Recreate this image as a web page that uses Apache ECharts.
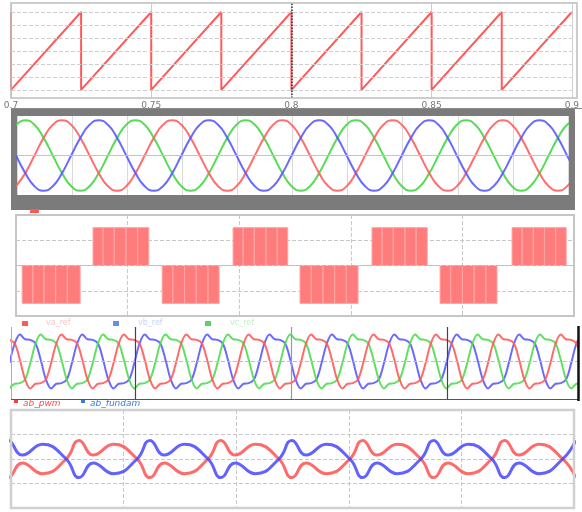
<!DOCTYPE html>
<html><head><meta charset="utf-8">
<script src="https://cdn.jsdelivr.net/npm/echarts/dist/echarts.min.js"></script>
<style>html,body{margin:0;padding:0;background:#fff}#c{width:582px;height:512px}</style>
</head><body><div id="c"></div>
<script>
// ---------- Panel 1: carrier sawtooth ----------
const sawX = [0.7, 0.7, 0.725, 0.725, 0.75, 0.75, 0.775, 0.775, 0.8, 0.8, 0.825, 0.825, 0.85, 0.85, 0.875, 0.875, 0.9];
const sawY = [6, 0, 6, 0, 6, 0, 6, 0, 6, 0, 6, 0, 6, 0, 6, 0, 6];
const sawLevels = [0, 1, 2, 3, 4, 5, 6];
const sawCursor = [0.8];

// ---------- Panel 2: three-phase references ----------
const sineT = [-0.17, 1.5, 3.17, 4.83, 6.5, 8.17, 9.83, 11.5, 13.17, 14.83, 16.5, 18.17,
  19.83, 21.5, 23.17, 24.83, 26.5, 28.17, 29.83, 31.5, 33.17, 34.83, 36.5, 38.17,
  39.83, 41.5, 43.17, 44.83, 46.5, 48.17, 49.83, 51.5, 53.17, 54.83, 56.5, 58.17,
  59.83, 61.5, 63.17, 64.83, 66.5, 68.17, 69.83, 71.5, 73.17, 74.83, 76.5, 78.17,
  79.83, 81.5, 83.17, 84.83, 86.5, 88.17, 89.83, 91.5, 93.17, 94.83, 96.5, 98.17,
  99.83, 101.5];
const sineGreen = [0.87,
  1, 0.87, 0.5, 0, -0.5, -0.87, -1, -0.87, -0.5, 0, 0.5, 0.87,
  1, 0.87, 0.5, 0, -0.5, -0.87, -1, -0.87, -0.5, 0, 0.5, 0.87,
  1, 0.87, 0.5, 0, -0.5, -0.87, -1, -0.87, -0.5, 0, 0.5, 0.87,
  1, 0.87, 0.5, 0, -0.5, -0.87, -1, -0.87, -0.5, 0, 0.5, 0.87,
  1, 0.87, 0.5, 0, -0.5, -0.87, -1, -0.87, -0.5, 0, 0.5, 0.87,
  1];
const sineRed = [-0.87, -0.5, 0, 0.5, 0.87,
  1, 0.87, 0.5, 0, -0.5, -0.87, -1, -0.87, -0.5, 0, 0.5, 0.87,
  1, 0.87, 0.5, 0, -0.5, -0.87, -1, -0.87, -0.5, 0, 0.5, 0.87,
  1, 0.87, 0.5, 0, -0.5, -0.87, -1, -0.87, -0.5, 0, 0.5, 0.87,
  1, 0.87, 0.5, 0, -0.5, -0.87, -1, -0.87, -0.5, 0, 0.5, 0.87,
  1, 0.87, 0.5, 0, -0.5, -0.87, -1, -0.87, -0.5];
const sineBlue = [0, -0.5, -0.87, -1, -0.87, -0.5, 0, 0.5, 0.87,
  1, 0.87, 0.5, 0, -0.5, -0.87, -1, -0.87, -0.5, 0, 0.5, 0.87,
  1, 0.87, 0.5, 0, -0.5, -0.87, -1, -0.87, -0.5, 0, 0.5, 0.87,
  1, 0.87, 0.5, 0, -0.5, -0.87, -1, -0.87, -0.5, 0, 0.5, 0.87,
  1, 0.87, 0.5, 0, -0.5, -0.87, -1, -0.87, -0.5, 0, 0.5, 0.87,
  1, 0.87, 0.5, 0, -0.5];

// ---------- Panel 3: PWM leg voltage [time, level] ----------
const pwmWave = [
  [0, 0],
  [1.1, 0], [1.1, -300], [3.0, -300], [3.0, 0], [3.0, -300], [5.0, -300], [5.0, 0], [5.0, -300], [7.1, -300], [7.1, 0], [7.1, -300], [9.2, -300], [9.2, 0], [9.2, -300], [11.5, -300], [11.5, 0],
  [13.8, 0], [13.8, 300], [15.6, 300], [15.6, 0], [15.6, 300], [17.6, 300], [17.6, 0], [17.6, 300], [19.7, 300], [19.7, 0], [19.7, 300], [21.8, 300], [21.8, 0], [21.8, 300], [23.8, 300], [23.8, 0],
  [26.2, 0], [26.2, -300], [28.1, -300], [28.1, 0], [28.1, -300], [30.2, -300], [30.2, 0], [30.2, -300], [32.3, -300], [32.3, 0], [32.3, -300], [34.4, -300], [34.4, 0], [34.4, -300], [36.4, -300], [36.4, 0],
  [38.9, 0], [38.9, 300], [40.7, 300], [40.7, 0], [40.7, 300], [42.7, 300], [42.7, 0], [42.7, 300], [44.8, 300], [44.8, 0], [44.8, 300], [46.8, 300], [46.8, 0], [46.8, 300], [48.7, 300], [48.7, 0],
  [50.9, 0], [50.9, -300], [52.9, -300], [52.9, 0], [52.9, -300], [55.0, -300], [55.0, 0], [55.0, -300], [57.1, -300], [57.1, 0], [57.1, -300], [59.2, -300], [59.2, 0], [59.2, -300], [61.3, -300], [61.3, 0],
  [63.8, 0], [63.8, 300], [65.6, 300], [65.6, 0], [65.6, 300], [67.6, 300], [67.6, 0], [67.6, 300], [69.7, 300], [69.7, 0], [69.7, 300], [71.7, 300], [71.7, 0], [71.7, 300], [73.7, 300], [73.7, 0],
  [76.0, 0], [76.0, -300], [77.9, -300], [77.9, 0], [77.9, -300], [80.0, -300], [80.0, 0], [80.0, -300], [82.1, -300], [82.1, 0], [82.1, -300], [84.2, -300], [84.2, 0], [84.2, -300], [86.2, -300], [86.2, 0],
  [88.9, 0], [88.9, 300], [90.7, 300], [90.7, 0], [90.7, 300], [92.7, 300], [92.7, 0], [92.7, 300], [94.7, 300], [94.7, 0], [94.7, 300], [96.7, 300], [96.7, 0], [96.7, 300], [98.6, 300], [98.6, 0],
  [100, 0]
];

// ---------- Panel 4: distorted three-phase ----------
const distT = [9.83, 11.5, 13.17, 14.83, 16.5, 18.17, 19.83, 21.5, 23.17, 24.83, 26.5, 28.17,
  29.83, 31.5, 33.17, 34.83, 36.5, 38.17, 39.83, 41.5, 43.17, 44.83, 46.5, 48.17,
  49.83, 51.5, 53.17, 54.83, 56.5, 58.17, 59.83, 61.5, 63.17, 64.83, 66.5, 68.17,
  69.83, 71.5, 73.17, 74.83, 76.5, 78.17, 79.83, 81.5, 83.17, 84.83, 86.5, 88.17,
  89.83, 91.5, 93.17, 94.83, 96.5, 98.17, 99.83, 101.5, 103.17, 104.83, 106.5, 108.17,
  109.83, 111.5, 113.17, 114.83, 116.5, 118.17, 119.83, 121.5, 123.17, 124.83, 126.5, 128.17,
  129.83, 131.5, 133.17, 134.83, 136.5, 138.17, 139.83, 141.5, 143.17, 144.83, 146.5, 148.17,
  149.83, 151.5, 153.17, 154.83, 156.5, 158.17, 159.83, 161.5, 163.17, 164.83, 166.5, 168.17,
  169.83, 171.5, 173.17, 174.83, 176.5, 178.17, 179.83, 181.5, 183.17, 184.83, 186.5, 188.17,
  189.83, 191.5, 193.17];
const distBlue = [-0.05, 0.6,
  0.9, 0.74, 0.72, 0.6, 0.05, -0.6, -0.9, -0.74, -0.72, -0.6, -0.05, 0.6,
  0.9, 0.74, 0.72, 0.6, 0.05, -0.6, -0.9, -0.74, -0.72, -0.6, -0.05, 0.6,
  0.9, 0.74, 0.72, 0.6, 0.05, -0.6, -0.9, -0.74, -0.72, -0.6, -0.05, 0.6,
  0.9, 0.74, 0.72, 0.6, 0.05, -0.6, -0.9, -0.74, -0.72, -0.6, -0.05, 0.6,
  0.9, 0.74, 0.72, 0.6, 0.05, -0.6, -0.9, -0.74, -0.72, -0.6, -0.05, 0.6,
  0.9, 0.74, 0.72, 0.6, 0.05, -0.6, -0.9, -0.74, -0.72, -0.6, -0.05, 0.6,
  0.9, 0.74, 0.72, 0.6, 0.05, -0.6, -0.9, -0.74, -0.72, -0.6, -0.05, 0.6,
  0.9, 0.74, 0.72, 0.6, 0.05, -0.6, -0.9, -0.74, -0.72, -0.6, -0.05, 0.6,
  0.9, 0.74, 0.72, 0.6, 0.05, -0.6, -0.9, -0.74, -0.72, -0.6, -0.05, 0.6,
  0.9];
const distGreen = [-0.9, -0.74, -0.72, -0.6, -0.05, 0.6,
  0.9, 0.74, 0.72, 0.6, 0.05, -0.6, -0.9, -0.74, -0.72, -0.6, -0.05, 0.6,
  0.9, 0.74, 0.72, 0.6, 0.05, -0.6, -0.9, -0.74, -0.72, -0.6, -0.05, 0.6,
  0.9, 0.74, 0.72, 0.6, 0.05, -0.6, -0.9, -0.74, -0.72, -0.6, -0.05, 0.6,
  0.9, 0.74, 0.72, 0.6, 0.05, -0.6, -0.9, -0.74, -0.72, -0.6, -0.05, 0.6,
  0.9, 0.74, 0.72, 0.6, 0.05, -0.6, -0.9, -0.74, -0.72, -0.6, -0.05, 0.6,
  0.9, 0.74, 0.72, 0.6, 0.05, -0.6, -0.9, -0.74, -0.72, -0.6, -0.05, 0.6,
  0.9, 0.74, 0.72, 0.6, 0.05, -0.6, -0.9, -0.74, -0.72, -0.6, -0.05, 0.6,
  0.9, 0.74, 0.72, 0.6, 0.05, -0.6, -0.9, -0.74, -0.72, -0.6, -0.05, 0.6,
  0.9, 0.74, 0.72, 0.6, 0.05, -0.6, -0.9, -0.74, -0.72];
const distRed = [0.72, 0.6, 0.05, -0.6, -0.9, -0.74, -0.72, -0.6, -0.05, 0.6,
  0.9, 0.74, 0.72, 0.6, 0.05, -0.6, -0.9, -0.74, -0.72, -0.6, -0.05, 0.6,
  0.9, 0.74, 0.72, 0.6, 0.05, -0.6, -0.9, -0.74, -0.72, -0.6, -0.05, 0.6,
  0.9, 0.74, 0.72, 0.6, 0.05, -0.6, -0.9, -0.74, -0.72, -0.6, -0.05, 0.6,
  0.9, 0.74, 0.72, 0.6, 0.05, -0.6, -0.9, -0.74, -0.72, -0.6, -0.05, 0.6,
  0.9, 0.74, 0.72, 0.6, 0.05, -0.6, -0.9, -0.74, -0.72, -0.6, -0.05, 0.6,
  0.9, 0.74, 0.72, 0.6, 0.05, -0.6, -0.9, -0.74, -0.72, -0.6, -0.05, 0.6,
  0.9, 0.74, 0.72, 0.6, 0.05, -0.6, -0.9, -0.74, -0.72, -0.6, -0.05, 0.6,
  0.9, 0.74, 0.72, 0.6, 0.05, -0.6, -0.9, -0.74, -0.72, -0.6, -0.05, 0.6,
  0.9, 0.74, 0.72, 0.6, 0.05];
const distGridX = [50, 100, 150];

// ---------- Panel 5: ab_pwm / ab_fundam ----------
const beatT = [-2.8, -0.5, 2.0, 5.6, 9.8, 12.1, 14.6, 18.2, 22.4, 24.7, 27.2, 30.8,
  35.0, 37.3, 39.8, 43.4, 47.6, 49.9, 52.4, 56.0, 60.2, 62.5, 65.0, 68.6,
  72.8, 75.1, 77.6, 81.2, 85.4, 87.7, 90.2, 93.8, 98.0, 100.3];
const beatBlue = [0, 0.76, 0.16, 0.6, 0, -0.76, -0.16, -0.6, 0, 0.76, 0.16, 0.6,
  0, -0.76, -0.16, -0.6, 0, 0.76, 0.16, 0.6, 0, -0.76, -0.16, -0.6,
  0, 0.76, 0.16, 0.6, 0, -0.76, -0.16, -0.6, 0, 0.76];
const beatRed = [0, -0.76, -0.16, -0.6, 0, 0.76, 0.16, 0.6, 0, -0.76, -0.16, -0.6,
  0, 0.76, 0.16, 0.6, 0, -0.76, -0.16, -0.6, 0, 0.76, 0.16, 0.6,
  0, -0.76, -0.16, -0.6, 0, 0.76, 0.16, 0.6, 0, -0.76];
const beatNames = ['ab_pwm', 'ab_fundam'];
const refNames = ['va_ref', 'vb_ref', 'vc_ref'];

// ---------- build ----------
const pair = (xs, ys) => xs.map((x, i) => [x, ys[i]]);
const FONT = '"DejaVu Sans", "Liberation Sans", sans-serif';
const hid = { axisLine: { show: false }, axisTick: { show: false }, axisLabel: { show: false } };
const noLbl = { show: false };

const chart = echarts.init(document.getElementById('c'), null, { renderer: 'canvas' });
const line = (xi, data, color, width, extra) => Object.assign({
  type: 'line', xAxisIndex: xi, yAxisIndex: xi, data: data, showSymbol: false, symbol: 'none',
  lineStyle: { color: color, width: width }, itemStyle: { color: color }, silent: true, animation: false
}, extra || {});

chart.setOption({
  animation: false,
  backgroundColor: '#ffffff',
  grid: [
    { left: 11, top: 3, width: 566, height: 95 },
    { left: 17, top: 116, width: 551, height: 79 },
    { left: 16, top: 215, width: 558, height: 101 },
    { left: 11, top: 327, width: 567, height: 72 },
    { left: 11, top: 410, width: 563, height: 98 }
  ],
  xAxis: [
    { gridIndex: 0, type: 'value', min: 0.7, max: 0.9, interval: 0.05,
      axisLine: { show: false }, axisTick: { show: false },
      axisLabel: { show: true, fontSize: 9, color: '#777', margin: 3, fontFamily: FONT },
      splitLine: { show: true, lineStyle: { color: '#cfcfcf', width: 1 } } },
    Object.assign({ gridIndex: 1, type: 'value', min: 0, max: 100, interval: 10,
      splitLine: { show: true, lineStyle: { color: '#dadada', width: 1 } } }, hid),
    Object.assign({ gridIndex: 2, type: 'value', min: 0, max: 100, interval: 20,
      splitLine: { show: true, lineStyle: { color: '#c8c8c8', type: 'dashed', width: 1 } } }, hid),
    Object.assign({ gridIndex: 3, type: 'value', min: 10.3, max: 192, splitLine: { show: false } }, hid),
    Object.assign({ gridIndex: 4, type: 'value', min: 0, max: 100, interval: 20,
      splitLine: { show: true, lineStyle: { color: '#c8c8c8', type: 'dashed', width: 1 } } }, hid)
  ],
  yAxis: [
    Object.assign({ gridIndex: 0, type: 'value', min: -0.62, max: 6.69, splitLine: { show: false } }, hid),
    Object.assign({ gridIndex: 1, type: 'value', min: -1.12, max: 1.12, splitLine: { show: false } }, hid),
    Object.assign({ gridIndex: 2, type: 'value', min: -400, max: 400, interval: 200,
      splitLine: { show: true, lineStyle: { color: '#c8c8c8', type: 'dashed', width: 1 } } }, hid),
    Object.assign({ gridIndex: 3, type: 'value', min: -1.25, max: 1.15, splitLine: { show: false } }, hid),
    Object.assign({ gridIndex: 4, type: 'value', min: -2, max: 2, interval: 1,
      splitLine: { show: true, lineStyle: { color: '#c8c8c8', type: 'dashed', width: 1 } } }, hid)
  ],
  series: [
    line(0, pair(sawX, sawY), '#ff5a5a', 2, {
      markLine: { silent: true, symbol: ['none', 'none'], label: noLbl, animation: false,
        data: sawLevels.map(v => ({ yAxis: v, lineStyle: { color: '#cfcfcf', type: 'dashed', width: 1 } }))
          .concat(sawCursor.map(v => ({ xAxis: v, lineStyle: { color: '#333', type: 'dotted', width: 1.5 } }))) }
    }),
    line(1, pair(sineT, sineGreen), 'rgba(70,215,70,0.9)', 2, { smooth: 0.5,
      markLine: { silent: true, symbol: ['none', 'none'], label: noLbl, animation: false,
        data: [{ yAxis: 0, lineStyle: { color: '#c4c4c4', type: 'solid', width: 1 } }] } }),
    line(1, pair(sineT, sineRed), 'rgba(255,95,95,0.9)', 2, { smooth: 0.5 }),
    line(1, pair(sineT, sineBlue), 'rgba(90,90,255,0.9)', 2, { smooth: 0.5 }),
    line(2, pwmWave, '#ffa3a3', 1, { areaStyle: { color: '#ff7c7c', opacity: 1 } }),
    line(3, pair(distT, distBlue), 'rgba(90,90,255,0.9)', 2, { smooth: 0.35, z: 3,
      markLine: { silent: true, symbol: ['none', 'none'], label: noLbl, animation: false,
        data: distGridX.map((v, i) => ({ xAxis: v, lineStyle: { color: i === 1 ? '#9a9a9a' : '#444', type: 'solid', width: 1.2 } }))
          .concat([{ yAxis: 0, lineStyle: { color: '#bdbdbd', type: 'dashed', width: 1 } }]) } }),
    line(3, pair(distT, distGreen), 'rgba(80,220,80,0.9)', 2, { smooth: 0.35, z: 3 }),
    line(3, pair(distT, distRed), 'rgba(255,90,90,0.9)', 2, { smooth: 0.35, z: 3 }),
    line(4, pair(beatT, beatRed), 'rgba(255,80,80,0.85)', 3, { smooth: 0.5 }),
    line(4, pair(beatT, beatBlue), 'rgba(70,70,255,0.85)', 3, { smooth: 0.5 })
  ],
  graphic: [
    { type: 'rect', z: -10, silent: true, shape: { x: 11, y: 109, width: 564, height: 101 }, style: { fill: '#7b7b7b' } },
    { type: 'rect', z: -9, silent: true, shape: { x: 17, y: 116, width: 551, height: 79 }, style: { fill: '#ffffff' } },
    { type: 'rect', z: 50, silent: true, shape: { x: 11, y: 3, width: 566, height: 95 }, style: { fill: 'none', stroke: '#bdbdbd', lineWidth: 1.5 } },
    { type: 'line', z: 50, silent: true, shape: { x1: 11, y1: 108.5, x2: 582, y2: 108.5 }, style: { stroke: '#8a8a8a', lineWidth: 1 } },
    { type: 'rect', z: 50, silent: true, shape: { x: 30, y: 209, width: 9, height: 4 }, style: { fill: '#ff5a5a' } },
    { type: 'rect', z: 50, silent: true, shape: { x: 16, y: 215, width: 558, height: 101 }, style: { fill: 'none', stroke: '#c6c6c6', lineWidth: 2 } },
    { type: 'rect', z: 50, silent: true, shape: { x: 22, y: 321, width: 6, height: 5 }, style: { fill: '#ff5a5a' } },
    { type: 'text', z: 50, silent: true, style: { text: refNames[0], x: 46, y: 319, fill: '#f6caca', font: '8px ' + FONT } },
    { type: 'rect', z: 50, silent: true, shape: { x: 113, y: 321, width: 6, height: 5 }, style: { fill: '#6a8fe8' } },
    { type: 'text', z: 50, silent: true, style: { text: refNames[1], x: 138, y: 319, fill: '#c8d4f2', font: '8px ' + FONT } },
    { type: 'rect', z: 50, silent: true, shape: { x: 205, y: 321, width: 6, height: 5 }, style: { fill: '#5ccf6a' } },
    { type: 'text', z: 50, silent: true, style: { text: refNames[2], x: 230, y: 319, fill: '#c8eccc', font: '8px ' + FONT } },
    { type: 'line', z: 50, silent: true, shape: { x1: 11.5, y1: 327, x2: 11.5, y2: 399 }, style: { stroke: '#b0b0b0', lineWidth: 1 } },
    { type: 'line', z: 50, silent: true, shape: { x1: 11, y1: 399.5, x2: 578, y2: 399.5 }, style: { stroke: '#555', lineWidth: 1 } },
    { type: 'line', z: 50, silent: true, shape: { x1: 578.5, y1: 326, x2: 578.5, y2: 401 }, style: { stroke: '#111', lineWidth: 2.5 } },
    { type: 'rect', z: 50, silent: true, shape: { x: 14, y: 400, width: 4, height: 3 }, style: { fill: '#ff4040' } },
    { type: 'text', z: 50, silent: true, style: { text: beatNames[0], x: 23, y: 399, fill: '#ff4a4a', font: 'italic 9px ' + FONT } },
    { type: 'rect', z: 50, silent: true, shape: { x: 81, y: 400, width: 4, height: 3 }, style: { fill: '#3a7ad8' } },
    { type: 'text', z: 50, silent: true, style: { text: beatNames[1], x: 90, y: 399, fill: '#3a7ad8', font: 'italic 9px ' + FONT } },
    { type: 'rect', z: 50, silent: true, shape: { x: 11, y: 410, width: 563, height: 98 }, style: { fill: 'none', stroke: '#d0d0d0', lineWidth: 2.5 } }
  ]
});
</script></body></html>
